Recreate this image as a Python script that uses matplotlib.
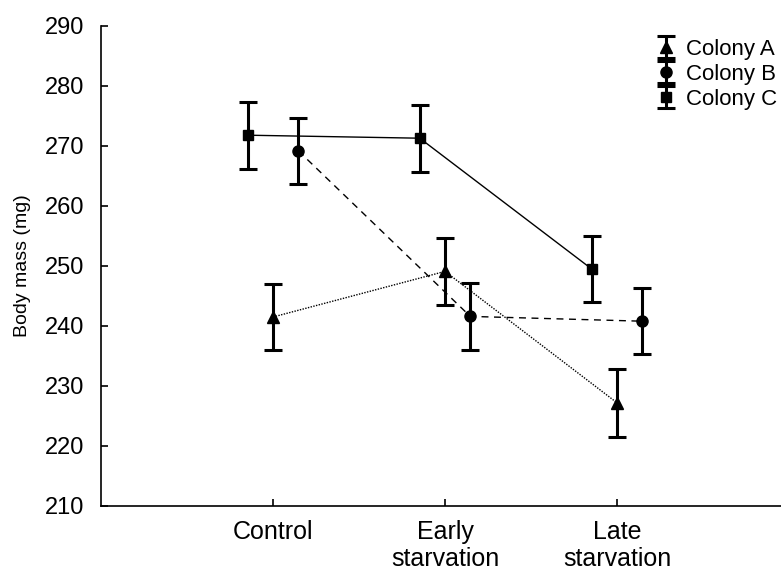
import matplotlib
matplotlib.use("Agg")
import matplotlib.pyplot as plt
import numpy as np

plt.rcParams['font.family'] = ['Liberation Sans', 'DejaVu Sans']

categories = ["Control", "Early\nstarvation", "Late\nstarvation"]
colony_a = [241.5, 249.1, 227.2]
colony_a_err = [5.55, 5.55, 5.65]
colony_b = [269.2, 241.6, 240.8]
colony_b_err = [5.55, 5.55, 5.5]
colony_c = [271.8, 271.3, 249.5]
colony_c_err = [5.6, 5.6, 5.5]
yticks = [210, 220, 230, 240, 250, 260, 270, 280, 290]

fig = plt.figure(figsize=(7.81, 5.76), dpi=100)
ax = fig.add_axes([101/781, 1-506/576, (789-101)/781, (506-26)/576])

x = np.arange(len(categories))
off = 0.147
eb = dict(color='black', ecolor='black', elinewidth=2.2, capsize=6.5, capthick=2.2, zorder=3)

ax.errorbar(x, colony_a, yerr=colony_a_err, fmt='^', ms=8, label='Colony A', **eb)
ax.plot(x, colony_a, linestyle=(0, (1, 1)), color='black', lw=1, zorder=2)
ax.errorbar(x + off, colony_b, yerr=colony_b_err, fmt='o', ms=8, label='Colony B', **eb)
ax.plot(x + off, colony_b, linestyle=(0, (5, 4)), color='black', lw=1, zorder=2)
ax.errorbar(x - off, colony_c, yerr=colony_c_err, fmt='s', ms=7, label='Colony C', **eb)
ax.plot(x - off, colony_c, linestyle='-', color='black', lw=1, zorder=2)

ax.set_xlim(-1, 3)
ax.set_ylim(210, 290)
ax.set_yticks(yticks)
ax.set_yticklabels([str(t) for t in yticks], fontsize=17)
ax.set_xticks(x)
ax.set_xticklabels(categories, fontsize=18, linespacing=1.15)
ax.set_ylabel("Body mass (mg)", fontsize=14, labelpad=10)
ax.spines['top'].set_visible(False)
ax.spines['right'].set_visible(False)
ax.spines['left'].set_linewidth(1.2)
ax.spines['bottom'].set_linewidth(1.2)
ax.tick_params(axis='y', direction='in', length=5, pad=12, width=1.2)
ax.tick_params(axis='x', direction='in', length=5, pad=10, width=1.2)

leg = ax.legend(loc='upper left', bbox_to_anchor=((655 - 101) / 688, 1 - (39 - 26) / 480),
                frameon=False, fontsize=16, handlelength=1.0, handletextpad=0.4,
                borderaxespad=0, borderpad=0, labelspacing=0.18)
fig.savefig("out.png", dpi=100)
